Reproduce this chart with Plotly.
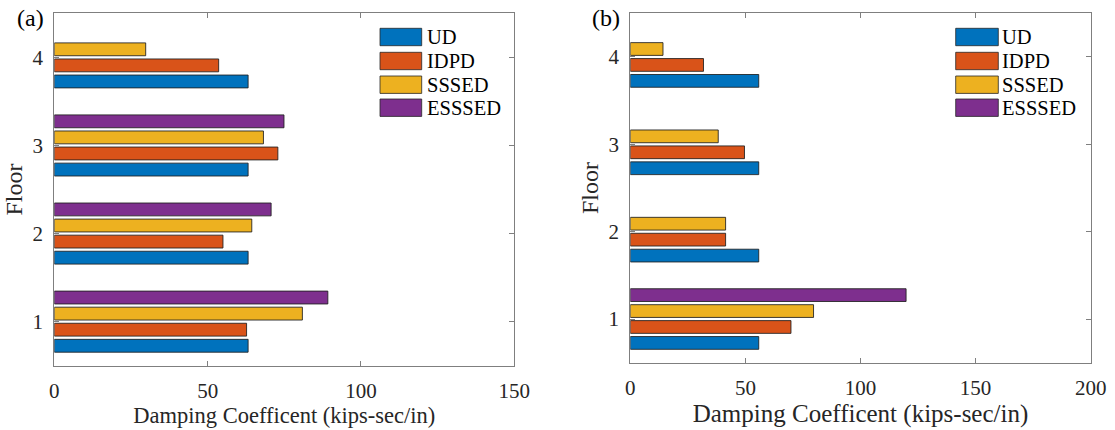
import plotly.graph_objects as go

# ---------------- data ----------------
floors = [1, 2, 3, 4]
series_names = ["UD", "IDPD", "SSSED", "ESSSED"]
series_colors = ["#0072BD", "#D95319", "#EDB120", "#7E2F8E"]

# panel (a)
ud_a = [63.2, 63.2, 63.2, 63.2]
idpd_a = [62.7, 55.0, 72.9, 53.6]
sssed_a = [80.9, 64.4, 68.2, 29.8]
esssed_a = [89.2, 70.7, 74.9, None]

# panel (b)
ud_b = [55.8, 55.8, 55.8, 55.8]
idpd_b = [69.8, 41.4, 49.6, 31.8]
sssed_b = [79.6, 41.4, 38.2, 14.2]
esssed_b = [119.8, None, None, None]

x_ticks_a = [0, 50, 100, 150]
x_ticks_b = [0, 50, 100, 150, 200]
x_title = "Damping Coefficent (kips-sec/in)"
y_title = "Floor"
panel_labels = ["(a)", "(b)"]

# ---------------- figure ----------------
W, H = 1115, 430
FONT = "Liberation Serif, Times New Roman, serif"
AXCOL = "#7f7f7f"
TXT = "#262626"

def px(x):
    return x / W

def py(y):
    return 1 - y / H

fig = go.Figure()
panel_a = [ud_a, idpd_a, sssed_a, esssed_a]
panel_b = [ud_b, idpd_b, sssed_b, esssed_b]
for (vals_set, xa, ya) in [(panel_a, "x", "y"), (panel_b, "x2", "y2")]:
    for name, col, vals in zip(series_names, series_colors, vals_set):
        fig.add_trace(go.Bar(
            y=floors, x=vals, orientation="h", name=name,
            marker=dict(color=col, line=dict(color="rgba(30,30,30,0.85)", width=1)),
            xaxis=xa, yaxis=ya, showlegend=False,
        ))

axis_common = dict(
    showline=True, linecolor=AXCOL, linewidth=1, mirror="ticks",
    ticks="inside", ticklen=5, tickcolor=AXCOL, tickwidth=1,
    showgrid=False, zeroline=False, automargin=False,
    tickfont=dict(family=FONT, size=21, color=TXT),
)

fig.update_layout(
    width=W, height=H,
    margin=dict(l=0, r=0, t=0, b=0),
    paper_bgcolor="white", plot_bgcolor="white",
    barmode="group", bargap=0.27, bargroupgap=0.2,
    font=dict(family=FONT, color=TXT),
    xaxis=dict(domain=[px(54.3), px(514.3)], range=[0, 150], tickvals=x_ticks_a,
               anchor="y", ticklabelstandoff=6,
               title=dict(text=x_title, font=dict(family=FONT, size=22.5, color=TXT), standoff=4),
               **axis_common),
    yaxis=dict(domain=[py(365.7), py(13.3)], range=[0.5, 4.5], tickvals=floors,
               anchor="x", ticklabelstandoff=6,
               title=dict(text=y_title, font=dict(family=FONT, size=24, color=TXT), standoff=3),
               **axis_common),
    xaxis2=dict(domain=[px(630.3), px(1090.7)], range=[0, 200], tickvals=x_ticks_b,
                anchor="y2", ticklabelstandoff=6,
                title=dict(text=x_title, font=dict(family=FONT, size=25, color=TXT), standoff=4),
                **axis_common),
    yaxis2=dict(domain=[py(362.7), py(13.3)], range=[0.5, 4.5], tickvals=floors,
                anchor="x2", ticklabelstandoff=6,
                title=dict(text=y_title, font=dict(family=FONT, size=24, color=TXT), standoff=3),
                **axis_common),
)

# panel labels
for lab, xc in zip(panel_labels, [30, 606]):
    fig.add_annotation(text=lab, x=px(xc), y=py(18), xref="paper", yref="paper",
                       showarrow=False, xanchor="center", yanchor="middle",
                       font=dict(family=FONT, size=24, color="black"))

# legends (MATLAB-style large swatches)
row_tops = [28.3, 52.3, 76.0, 99.0]
box_h = 17.4
for (bx0, bx1, tx) in [(380, 421.7, 424.5), (955.7, 998.3, 999.5)]:
    for name, col, yt in zip(series_names, series_colors, row_tops):
        fig.add_shape(type="rect", xref="paper", yref="paper",
                      x0=px(bx0), x1=px(bx1), y0=py(yt + box_h), y1=py(yt),
                      fillcolor=col, line=dict(color="rgba(40,40,40,0.8)", width=1))
        fig.add_annotation(text=name, x=px(tx), y=py(yt + box_h / 2), xref="paper", yref="paper",
                           showarrow=False, xanchor="left", yanchor="middle",
                           font=dict(family=FONT, size=20.5, color="black"))

fig.write_html("out.html", config={"displayModeBar": False},
               post_script="document.body.style.margin='0';document.body.style.overflow='hidden';")
